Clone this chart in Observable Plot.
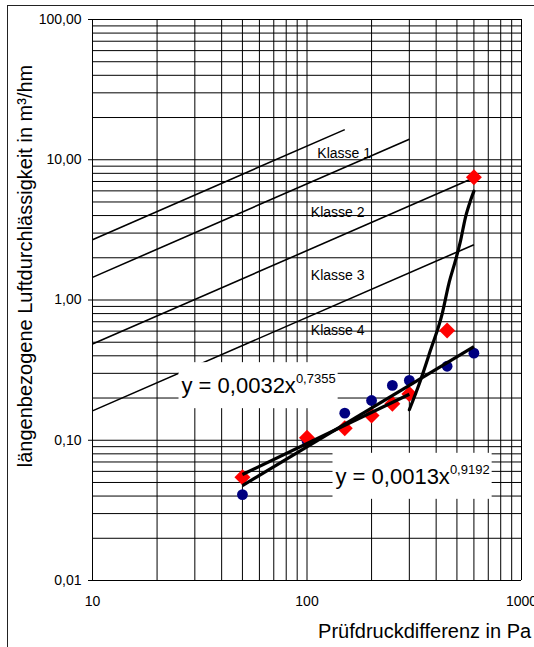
<!DOCTYPE html>
<html><head><meta charset="utf-8">
<script src="https://cdn.jsdelivr.net/npm/d3@7"></script>
<script src="https://cdn.jsdelivr.net/npm/@observablehq/plot@0.6"></script>
<style>
body{margin:0;background:#fff;overflow:hidden;width:534px;height:647px;position:relative}
#frame{position:absolute;left:7px;top:5px;width:600px;height:700px;border:1px solid #222;box-sizing:border-box}
#chart{position:absolute;left:0;top:0}
</style></head><body>
<div id="frame"></div><div id="chart"></div>
<script>
// Measured data (Prüfdruckdifferenz in Pa)
const pressure   = [50, 100, 150, 200, 250, 300, 450, 600];
const seriesRed  = [0.0545, 0.104, 0.122, 0.150, 0.182, 0.214, 0.606, 7.5];
const seriesBlue = [0.041, 0.099, 0.156, 0.192, 0.246, 0.267, 0.337, 0.418];

// Klasse reference lines (start / end points)
const classNames  = ["Klasse 1", "Klasse 2", "Klasse 3", "Klasse 4"];
const classX0     = [10, 10, 10, 10];
const classY0     = [2.69, 1.45, 0.485, 0.162];
const classX1     = [150, 300, 600, 600];
const classY1     = [16.4, 14.0, 7.43, 2.48];
const classLabelX = [149, 139, 139, 139];
const classLabelY = [11.1, 4.22, 1.50, 0.606];

// Trend lines
const fitRedX  = [50, 300],  fitRedY  = [0.057, 0.213];
const fitBlueX = [50, 600],  fitBlueY = [0.0475, 0.465];
const curveX = [300, 338, 376, 427, 458, 492, 520, 548, 578, 600];
const curveY = [0.165, 0.267, 0.436, 0.80, 1.30, 1.91, 2.65, 3.89, 5.10, 5.97];

// Equation labels
const eqText = ["y = 0,0032x", "y = 0,0013x"];
const eqExp  = ["0,7355", "0,9192"];
const eqX    = [26.0, 135.8];
const eqY    = [0.2166, 0.0489];

// Axes
const xTicks = [10, 100, 1000], xTickLabels = ["10", "100", "1000"];
const yTicks = [0.01, 0.1, 1, 10, 100], yTickLabels = ["0,01", "0,10", "1,00", "10,00", "100,00"];
const xTitle = "Prüfdruckdifferenz in Pa";
const yTitle = "längenbezogene Luftdurchlässigkeit in m³/hm";

const xGrid = d3.scaleLog().domain([10, 1000]).ticks();
const yGrid = d3.scaleLog().domain([0.01, 100]).ticks();

const points = pressure.map((p, i) => ({x: p, red: seriesRed[i], blue: seriesBlue[i]}));
const classes = classNames.map((n, i) => ({n, x0: classX0[i], y0: classY0[i], x1: classX1[i], y1: classY1[i], lx: classLabelX[i], ly: classLabelY[i]}));
const fits = [
  {x1: fitRedX[0], y1: fitRedY[0], x2: fitRedX[1], y2: fitRedY[1]},
  {x1: fitBlueX[0], y1: fitBlueY[0], x2: fitBlueX[1], y2: fitBlueY[1]}
];
const curve = curveX.map((x, i) => ({x, y: curveY[i]}));
const eqs = eqText.map((t, i) => ({t, e: eqExp[i], x: eqX[i], y: eqY[i]}));

const font = "'Liberation Sans', Arial, Helvetica, sans-serif";

const svg = Plot.plot({
  width: 534, height: 647,
  marginLeft: 92, marginRight: 13, marginTop: 19, marginBottom: 67,
  style: {fontFamily: font, color: "#000", background: "transparent", overflow: "visible"},
  x: {type: "log", domain: [10, 1000]},
  y: {type: "log", domain: [0.01, 100]},
  marks: [
    Plot.ruleX(xGrid, {stroke: "#000", strokeWidth: 1}),
    Plot.ruleY(yGrid, {stroke: "#000", strokeWidth: 1}),
    Plot.axisY(yTicks, {tickSize: 4, tickPadding: 7, fontSize: 14, label: null,
      tickFormat: d => yTickLabels[yTicks.indexOf(d)]}),
    Plot.axisX(xTicks, {tickSize: 0, tickPadding: 16, fontSize: 14, label: null,
      tickFormat: d => xTickLabels[xTicks.indexOf(d)]}),
    Plot.link(classes, {x1: "x0", y1: "y0", x2: "x1", y2: "y1", stroke: "#000", strokeWidth: 1.6}),
    Plot.text(classes, {x: "lx", y: "ly", text: "n", fontSize: 14, fill: "#000"}),
    Plot.dot(points, {x: "x", y: "blue", r: 5.4, fill: "#000080", stroke: "none"}),
    Plot.dot(points, {x: "x", y: "red", r: 7.2, symbol: "diamond2", fill: "#ff0000", stroke: "none"}),
    Plot.link(fits, {x1: "x1", y1: "y1", x2: "x2", y2: "y2", stroke: "#000", strokeWidth: 3.2}),
    Plot.line(curve, {x: "x", y: "y", curve: "monotone-x", stroke: "#000", strokeWidth: 3.2}),
    Plot.text(eqs, {x: "x", y: "y", text: "t", textAnchor: "start", lineAnchor: "bottom",
      fontSize: 22, fill: "#000"}),
    Plot.text([xTitle], {frameAnchor: "bottom-right", dx: 9.7, dy: 57.3, textAnchor: "end",
      lineAnchor: "bottom", fontSize: 20, fill: "#000"}),
    Plot.text([yTitle], {frameAnchor: "left", dx: -61, dy: -34, rotate: -90, textAnchor: "middle",
      lineAnchor: "bottom", fontSize: 20, fill: "#000"})
  ]
});
document.getElementById("chart").appendChild(svg);

// superscripts and white boxes for equations
const ns = "http://www.w3.org/2000/svg";
svg.querySelectorAll("text").forEach(t => {
  const i = eqText.indexOf(t.textContent);
  if (i < 0) return;
  const ts = document.createElementNS(ns, "tspan");
  ts.setAttribute("font-size", "13");
  ts.setAttribute("dy", "-10");
  ts.textContent = eqs[i].e;
  t.appendChild(ts);
  const b = t.getBBox();
  const r = document.createElementNS(ns, "rect");
  r.setAttribute("x", b.x - 3);
  r.setAttribute("y", b.y - 9);
  r.setAttribute("width", b.width + 5);
  r.setAttribute("height", b.height + 19);
  r.setAttribute("fill", "#fff");
  r.setAttribute("stroke", "none");
  if (t.getAttribute("transform")) r.setAttribute("transform", t.getAttribute("transform"));
  t.parentNode.insertBefore(r, t);
});
</script>
</body></html>
